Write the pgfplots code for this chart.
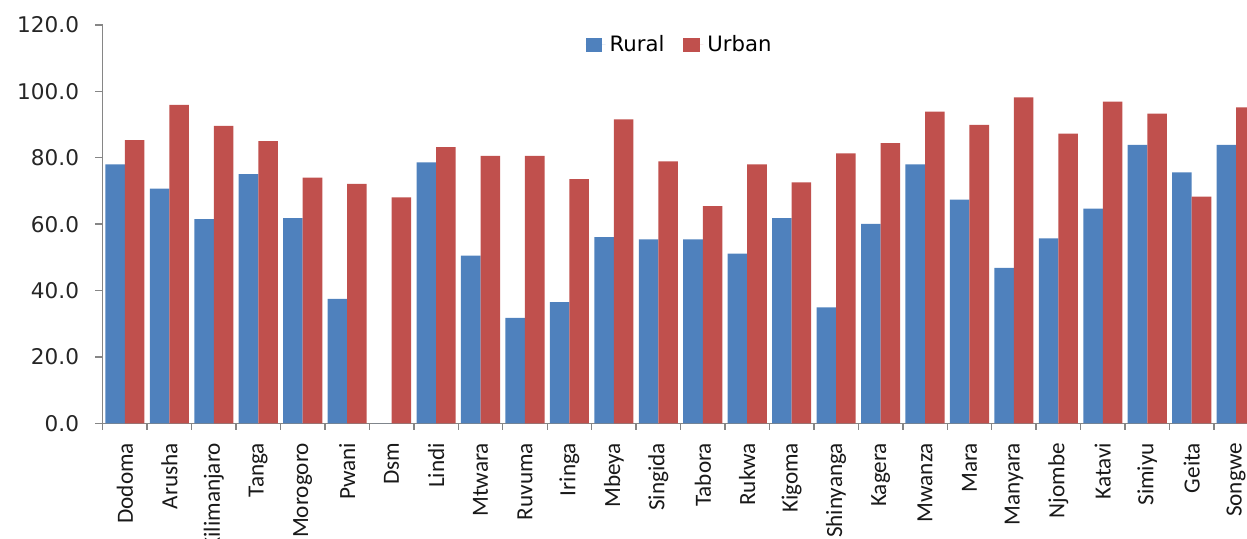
\documentclass[border=0pt]{standalone}
\usepackage{fontspec}
\setmainfont{DejaVu Sans}
\newfontfamily\carlito{Carlito}
\usepackage{pgfplots}
\usepackage{pgfplotstable}
\pgfplotsset{compat=1.18}
\definecolor{rural}{HTML}{4F81BD}
\definecolor{urban}{HTML}{C0504D}
\definecolor{axgray}{HTML}{868686}

\pgfplotstableread{
x rural urban
0 78.0 85.3
1 70.7 95.9
2 61.5 89.6
3 75.1 85.0
4 61.8 74.0
5 37.5 72.1
6 0 68.1
7 78.6 83.2
8 50.5 80.6
9 31.8 80.6
10 36.5 73.6
11 56.1 91.6
12 55.4 78.9
13 55.4 65.4
14 51.1 78.0
15 61.8 72.6
16 34.9 81.3
17 60.1 84.4
18 78.0 93.9
19 67.4 89.9
20 46.8 98.2
21 55.7 87.3
22 64.7 96.9
23 83.9 93.3
24 75.6 68.3
25 83.9 95.2
}\data

\begin{document}
\begin{tikzpicture}
\useasboundingbox (0,0) rectangle (623.5pt,269pt);
\clip (0,0) rectangle (623.5pt,269pt);
\begin{axis}[
  at={(51.35pt,57.35pt)}, anchor=south west,
  scale only axis, width=577.85pt, height=199.15pt,
  xmin=-0.5, xmax=25.5, ymin=0, ymax=120,
  ytick={0,20,...,120},
  ybar, bar width=0.44,
  axis lines*=left,
  axis line style={axgray, line width=0.7pt},
  every tick/.style={axgray, line width=0.7pt},
  tick align=outside, tick pos=left,
  major tick length=3.8pt, minor tick length=3.3pt,
  xtick={0,...,25},
  major x tick style={draw=none},
  minor xtick={-0.5,0.5,...,25.5},
  xticklabels={Dodoma,Arusha,Kilimanjaro,Tanga,Morogoro,Pwani,Dsm,Lindi,Mtwara,Ruvuma,Iringa,Mbeya,Singida,Tabora,Rukwa,Kigoma,Shinyanga,Kagera,Mwanza,Mara,Manyara,Njombe,Katavi,Simiyu,Geita,Songwe},
  xticklabel style={yshift=-2.5pt, rotate=90, anchor=east, font=\carlito\fontsize{11.6}{13}\selectfont, text=black!90},
  yticklabel style={font=\fontsize{10.8}{12}\selectfont, text=black!85, xshift=-4.5pt},
  y tick label style={/pgf/number format/.cd, fixed, fixed zerofill, precision=1, assume math mode=true},
  legend style={at={(0.5,0.95)}, anchor=center, draw=none, fill=none,
    legend columns=2, font=\fontsize{10.6}{12}\selectfont,
    /tikz/every even column/.append style={column sep=7.5pt}},
]
\addplot[fill=rural, draw=none, bar shift=-0.22,
  legend image code/.code={\fill[rural] (0pt,-3.3pt) rectangle (8.3pt,3.3pt); \path (0pt,0pt) -- (10pt,0pt);}]
  table[x=x, y=rural]{\data};
\addplot[fill=urban, draw=none, bar shift=0.22,
  legend image code/.code={\fill[urban] (0pt,-3.3pt) rectangle (8.3pt,3.3pt); \path (0pt,0pt) -- (10pt,0pt);}]
  table[x=x, y=urban]{\data};
\legend{Rural, Urban}
\end{axis}
\end{tikzpicture}
\end{document}
